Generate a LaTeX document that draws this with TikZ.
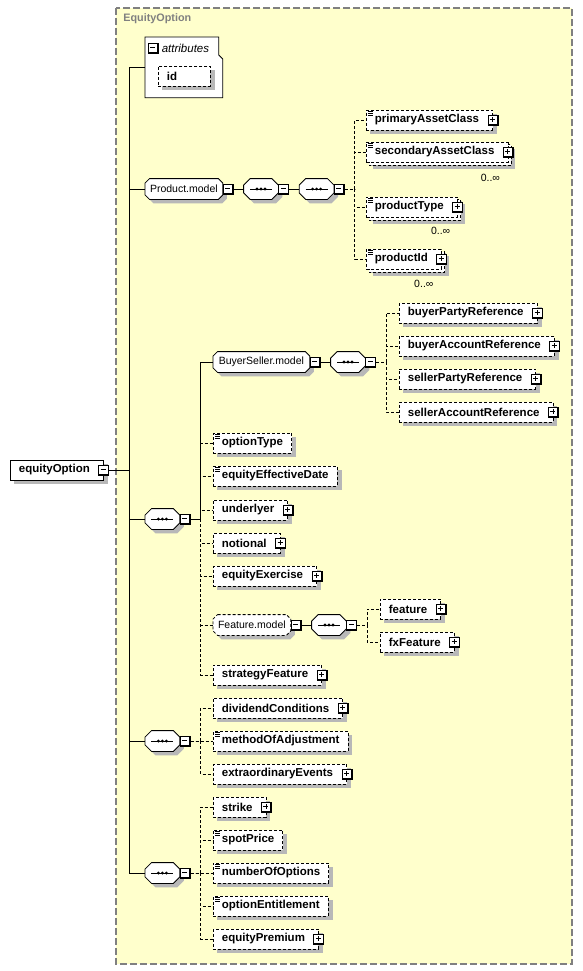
\documentclass[tikz,border=0pt]{standalone}
\usepackage{fontspec}
\setmainfont{Liberation Sans}
\usetikzlibrary{positioning}

\definecolor{paneyellow}{RGB}{255,255,204}
\definecolor{panegray}{RGB}{128,128,128}
\definecolor{shadegray}{RGB}{184,184,184}
\newcommand\elfont{\fontsize{11.5}{13}\selectfont\bfseries}
\newcommand\grpfont{\fontsize{10.5}{13}\selectfont}

% octagon round a group node: {node}{cut}{x shift}{y shift}
\newcommand\octline[4]{([xshift=#2+#3,yshift=#4]#1.north west) -- ([xshift=-#2+#3,yshift=#4]#1.north east)
  -- ([xshift=#3,yshift=-#2+#4]#1.north east) -- ([xshift=#3,yshift=#2+#4]#1.south east)
  -- ([xshift=-#2+#3,yshift=#4]#1.south east) -- ([xshift=#2+#3,yshift=#4]#1.south west)
  -- ([xshift=#3,yshift=#2+#4]#1.south west) -- ([xshift=#3,yshift=-#2+#4]#1.north west) -- cycle}
\newcommand\octo[3][]{%
  \fill[shadegray] \octline{#2}{#3}{4pt}{-4pt};
  \draw[fill=white,#1] \octline{#2}{#3}{0pt}{0pt};}

\tikzset{
  dashed/.style={dash pattern=on 3pt off 2pt},
  shadowed/.style={append after command={\pgfextra{\fill[shadegray]
      ([xshift=4pt,yshift=-4pt]\tikzlastnode.north west) rectangle ([xshift=4pt,yshift=-4pt]\tikzlastnode.south east);}}},
  elem/.style={shadowed,draw,dashed,fill=white,anchor=west,minimum height=20pt,
    inner xsep=8.5pt,inner ysep=0pt,font=\elfont},
  simple/.style={path picture={
      \draw[solid,line width=.7pt] ([xshift=2pt,yshift=-1.5pt]path picture bounding box.north west) -- ++(5,0);
      \draw[solid,line width=.7pt] ([xshift=2pt,yshift=-3.5pt]path picture bounding box.north west) -- ++(5,0);
      \draw[solid,line width=.7pt] ([xshift=2pt,yshift=-5.5pt]path picture bounding box.north west) -- ++(5,0);}},
  many/.style={append after command={\pgfextra{
      \fill[shadegray] ([xshift=7pt,yshift=-7pt]\tikzlastnode.north west) rectangle ([xshift=7pt,yshift=-7pt]\tikzlastnode.south east);
      \draw[fill=white,dashed] ([xshift=3pt,yshift=-3pt]\tikzlastnode.north west) rectangle ([xshift=3pt,yshift=-3pt]\tikzlastnode.south east);}}},
  tog/.style={draw,solid,fill=white,minimum size=10pt,inner sep=0pt},
  minus/.style={tog,path picture={
      \draw[solid,line width=2pt] (path picture bounding box.north east) -- (path picture bounding box.south east)
        -- (path picture bounding box.south west);
      \draw[solid] ([xshift=2pt,yshift=.5pt]path picture bounding box.west) -- ([xshift=-3pt,yshift=.5pt]path picture bounding box.east);}},
  plusbox/.style={tog,path picture={
      \draw[solid,line width=2pt] (path picture bounding box.north east) -- (path picture bounding box.south east)
        -- (path picture bounding box.south west);
      \draw[solid] ([xshift=2pt,yshift=.5pt]path picture bounding box.west) -- ([xshift=-3pt,yshift=.5pt]path picture bounding box.east);
      \draw[solid] ([xshift=-.5pt,yshift=-2pt]path picture bounding box.north) -- ([xshift=-.5pt,yshift=3pt]path picture bounding box.south);}},
  tail/.style={execute at end node={\hspace{5pt}}},
  plus/.style={tail,append after command={node[plusbox] (\tikzlastnode-p) at (\tikzlastnode.east) {}}},
  group/.style={anchor=west,minimum height=20pt,inner sep=0pt,font=\grpfont,
    append after command={\pgfextra{\octo{\tikzlastnode}{#1}}}},
  group/.default=4.5pt,
  optgroup/.style={anchor=west,minimum height=20pt,inner sep=0pt,font=\grpfont,
    append after command={\pgfextra{\octo[dashed]{\tikzlastnode}{4.5pt}}}},
  seq/.style={group=6.5pt,minimum width=34pt,path picture={
      \draw[solid] ([xshift=6pt]path picture bounding box.west) -- ([xshift=-6pt]path picture bounding box.east);
      \fill[black] ([xshift=-4pt]path picture bounding box.center) circle (1.6pt);
      \fill[black] (path picture bounding box.center) circle (1.6pt);
      \fill[black] ([xshift=4pt]path picture bounding box.center) circle (1.6pt);}},
  card/.style={font=\grpfont,inner sep=0pt},
}

\begin{document}
\begin{tikzpicture}[x=1pt,y=-1pt,line width=.8pt]
  \useasboundingbox (0,0) rectangle (582,971);
  \path[fill=paneyellow,draw=panegray,line width=1.2pt,dash pattern=on 7pt off 3pt]
    (116,8) rectangle (572,964);
  \node[anchor=west,text=panegray,inner sep=0pt,font=\fontsize{10.8}{13}\selectfont\bfseries]
    (title) at (123,19) {EquityOption};

  % root element and trunk
  \node[elem,solid,tail] (eo) at (10,470) {equityOption};
  \node[minus] (eo-m) at (eo.east) {};
  \coordinate (trunk) at (129,470);
  \draw (eo-m) -- (trunk);

  % attributes
  \node[minimum width=77pt,minimum height=60pt,anchor=north west,inner sep=0pt] (attr) at (145,37) {};
  \draw[fill=white] (attr.north west) -- ([xshift=-4pt]attr.north east)
    -- ([xshift=-4pt,yshift=-18pt]attr.north east) -- ([yshift=-22pt]attr.north east)
    -- (attr.south east) -- (attr.south west) -- cycle;
  \node[minus] (attr-m) at (153,48) {};
  \node[anchor=west,inner sep=0pt,font=\fontsize{11.5}{13}\selectfont\itshape,right=3pt of attr-m] (attr-t) {attributes};
  \node[elem,text width=35pt,align=left] (id) at (158,76) {id};

  % Product.model
  \node[group,minimum width=77pt] (pm) at (145,189) {Product.model};
  \node[minus,right=0pt of pm] (pm-m) {};
  \node[seq,right=10pt of pm-m] (pm-s1) {} edge (pm-m);
  \node[minus,right=0pt of pm-s1] (pm-s1m) {};
  \node[seq,right=10pt of pm-s1m] (pm-s2) {} edge (pm-s1m);
  \node[minus,right=0pt of pm-s2] (pm-s2m) {};
  \node[elem,simple,plus] (pac) at (366,120) {primaryAssetClass};
  \node[elem,simple,many,plus] (sac) at (366,152) {secondaryAssetClass};
  \node[card] (sac-n) at ([xshift=-18pt,yshift=-15pt]sac.south east) {0..∞};
  \node[elem,simple,many,plus] (pt) at (366,207) {productType};
  \node[card] (pt-n) at ([xshift=-17pt,yshift=-13pt]pt.south east) {0..∞};
  \node[elem,simple,many,plus] (pid) at (366,259) {productId};
  \node[card] (pid-n) at ([xshift=-18pt,yshift=-14pt]pid.south east) {0..∞};
  \draw[dashed] (pm-s2m.east) -- ++(10,0) |- (pac.west);
  \draw[dashed] (pm-s2m.east) -- ++(10,0) |- (sac.west);
  \draw[dashed] (pm-s2m.east) -- ++(10,0) |- (pt.west);
  \draw[dashed] (pm-s2m.east) -- ++(10,0) |- (pid.west);

  % first sequence
  \node[seq] (s2) at (145,519) {};
  \node[minus,right=0pt of s2] (s2-m) {};
  \node[group,minimum width=96pt] (bsm) at (213,362) {BuyerSeller.model};
  \node[minus,right=0pt of bsm] (bsm-m) {};
  \node[seq,right=10pt of bsm-m] (bs-s) {} edge (bsm-m);
  \node[minus,right=0pt of bs-s] (bs-sm) {};
  \node[elem,plus] (bpr) at (399,313) {buyerPartyReference};
  \node[elem,plus] (bar) at (399,346) {buyerAccountReference};
  \node[elem,plus] (spr) at (399,379) {sellerPartyReference};
  \node[elem,plus] (sar) at (399,412) {sellerAccountReference};
  \draw[dashed] (bs-sm.east) -- ++(10,0) |- (bpr.west);
  \draw[dashed] (bs-sm.east) -- ++(10,0) |- (bar.west);
  \draw[dashed] (bs-sm.east) -- ++(10,0) |- (spr.west);
  \draw[dashed] (bs-sm.east) -- ++(10,0) |- (sar.west);
  \node[elem,simple] (ot) at (213,443) {optionType};
  \node[elem,simple] (eed) at (213,476) {equityEffectiveDate};
  \node[elem,plus] (und) at (213,510) {underlyer};
  \node[elem,plus] (ntl) at (213,543) {notional};
  \node[elem,plus] (eex) at (213,576) {equityExercise};
  \node[optgroup,minimum width=77pt] (fm) at (213,625) {Feature.model};
  \node[minus,right=0pt of fm] (fm-m) {};
  \node[seq,right=10pt of fm-m] (f-s) {} edge (fm-m);
  \node[minus,right=0pt of f-s] (f-sm) {};
  \node[elem,plus] (feat) at (380,609) {feature};
  \node[elem,plus] (fxf) at (380,642) {fxFeature};
  \draw[dashed] (f-sm.east) -- ++(10,0) |- (feat.west);
  \draw[dashed] (f-sm.east) -- ++(10,0) |- (fxf.west);
  \node[elem,plus] (sf) at (213,675) {strategyFeature};
  \draw (s2-m.east) -- ++(10,0) |- (bsm.west);
  \draw[dashed] (s2-m.east) -- ++(10,0) |- (ot.west);
  \draw[dashed] (s2-m.east) -- ++(10,0) |- (eed.west);
  \draw[dashed] (s2-m.east) -- ++(10,0) |- (und.west);
  \draw[dashed] (s2-m.east) -- ++(10,0) |- (ntl.west);
  \draw[dashed] (s2-m.east) -- ++(10,0) |- (eex.west);
  \draw[dashed] (s2-m.east) -- ++(10,0) |- (fm.west);
  \draw[dashed] (s2-m.east) -- ++(10,0) |- (sf.west);

  % second sequence
  \node[seq] (s3) at (145,741) {};
  \node[minus,right=0pt of s3] (s3-m) {};
  \node[elem,plus] (dc) at (213,708) {dividendConditions};
  \node[elem,simple] (moa) at (213,741) {methodOfAdjustment};
  \node[elem,plus] (xe) at (213,774) {extraordinaryEvents};
  \draw[dashed] (s3-m.east) -- ++(10,0) |- (dc.west);
  \draw[dashed] (s3-m.east) -- ++(10,0) |- (moa.west);
  \draw[dashed] (s3-m.east) -- ++(10,0) |- (xe.west);

  % third sequence
  \node[seq] (s4) at (145,873) {};
  \node[minus,right=0pt of s4] (s4-m) {};
  \node[elem,plus] (stk) at (213,807) {strike};
  \node[elem,simple] (spp) at (213,840) {spotPrice};
  \node[elem,simple] (noo) at (213,873) {numberOfOptions};
  \node[elem,simple] (oen) at (213,906) {optionEntitlement};
  \node[elem,plus] (eqp) at (213,939) {equityPremium};
  \draw[dashed] (s4-m.east) -- ++(10,0) |- (stk.west);
  \draw[dashed] (s4-m.east) -- ++(10,0) |- (spp.west);
  \draw[dashed] (s4-m.east) -- ++(10,0) |- (noo.west);
  \draw[dashed] (s4-m.east) -- ++(10,0) |- (oen.west);
  \draw[dashed] (s4-m.east) -- ++(10,0) |- (eqp.west);

  % trunk branches
  \draw (attr.west) -| (trunk) |- (s4.west);
  \draw (trunk) |- (pm.west);
  \draw (trunk) |- (s2.west);
  \draw (trunk) |- (s3.west);
\end{tikzpicture}
\end{document}
